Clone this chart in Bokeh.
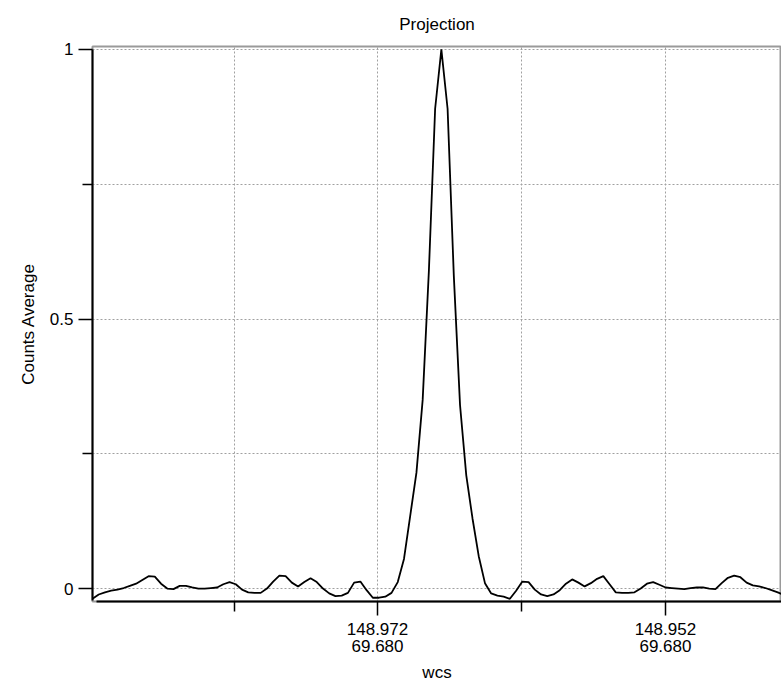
from bokeh.plotting import figure
from bokeh.models import Range1d, FixedTicker, LinearAxis, Grid
from bokeh.embed import file_html
from bokeh.resources import INLINE

# Projection profile (counts average) per sample
counts = [
    -0.019, -0.011, -0.007, -0.004, -0.002, 0.001, 0.005, 0.009, 0.016, 0.023,
    0.022, 0.009, 0.000, -0.001, 0.005, 0.005, 0.002, 0.000, 0.000, 0.001,
    0.002, 0.008, 0.012, 0.008, -0.002, -0.007, -0.008, -0.008, 0.000, 0.013,
    0.024, 0.023, 0.011, 0.004, 0.012, 0.019, 0.012, 0.000, -0.009, -0.014,
    -0.013, -0.008, 0.011, 0.013, -0.003, -0.017, -0.017, -0.015, -0.008, 0.012,
    0.055, 0.135, 0.215, 0.35, 0.59, 0.89, 1.0, 0.89, 0.58, 0.34,
    0.21, 0.13, 0.06, 0.01, -0.009, -0.013, -0.015, -0.019, -0.004, 0.013,
    0.012, -0.002, -0.011, -0.014, -0.011, -0.003, 0.009, 0.017, 0.011, 0.004,
    0.010, 0.018, 0.023, 0.008, -0.007, -0.008, -0.008, -0.007, 0.000, 0.009,
    0.012, 0.007, 0.002, 0.001, 0.000, -0.001, 0.001, 0.002, 0.002, 0.000,
    -0.001, 0.010, 0.020, 0.024, 0.021, 0.011, 0.006, 0.004, 0.001, -0.003,
    -0.007, -0.012,
]
sample = list(range(len(counts)))

# wcs axis ticks (in sample units)
x_major = [45.75, 91.97]
x_minor = [22.79, 68.86]
x_labels = ["148.972\n69.680", "148.952\n69.680"]
y_major = [0, 0.5, 1]
y_minor = [0.25, 0.75]
y_labels = ["0", "0.5", "1"]

FONT = "Liberation Sans"

p = figure(width=781, height=684, output_backend="svg", toolbar_location=None,
           x_range=Range1d(0, 110.6), y_range=Range1d(-0.024, 1.0055),
           x_axis_type=None, y_axis_type=None,
           min_border_left=92, min_border_right=0, min_border_top=44, min_border_bottom=82,
           title="Projection")
p.background_fill_color = "white"
p.border_fill_color = "white"
p.outline_line_color = "#9a9a9a"
p.outline_line_width = 2

p.title.text_font = FONT
p.title.text_font_size = "17px"
p.title.text_font_style = "normal"
p.title.align = "center"
p.title.text_color = "black"
p.title.standoff = 25

yaxis = LinearAxis(ticker=FixedTicker(ticks=y_major, minor_ticks=y_minor),
                   major_label_overrides=dict(zip(y_major, y_labels)),
                   axis_label="Counts Average", bounds=(-0.022, 1.0))
xaxis = LinearAxis(ticker=FixedTicker(ticks=x_major, minor_ticks=x_minor),
                   major_label_overrides=dict(zip(x_major, x_labels)),
                   axis_label="wcs", bounds=(0.6, 110.6))
for ax in (xaxis, yaxis):
    ax.axis_line_color = "black"
    ax.axis_line_width = 2
    ax.major_tick_line_color = "black"
    ax.major_tick_line_width = 1.5
    ax.minor_tick_line_color = "black"
    ax.minor_tick_line_width = 1.5
    ax.major_tick_in = 0
    ax.minor_tick_in = 0
    ax.major_tick_out = 14
    ax.minor_tick_out = 10
    ax.major_label_text_font = FONT
    ax.major_label_text_font_size = "17px"
    ax.major_label_text_color = "black"
    ax.axis_label_text_font = FONT
    ax.axis_label_text_font_size = "17px"
    ax.axis_label_text_font_style = "normal"
    ax.axis_label_text_color = "black"
yaxis.major_label_standoff = 5
yaxis.axis_label_standoff = 9
xaxis.major_label_standoff = 4
xaxis.major_label_text_line_height = 0.9
xaxis.axis_label_standoff = 4
p.add_layout(yaxis, "left")
p.add_layout(xaxis, "below")

for dim, ax in ((0, xaxis), (1, yaxis)):
    g = Grid(dimension=dim, ticker=ax.ticker,
             grid_line_color="#a0a0a0", grid_line_dash="2 2", grid_line_width=1,
             minor_grid_line_color="#a0a0a0", minor_grid_line_dash="2 2", minor_grid_line_width=1)
    p.add_layout(g)

p.line(sample, counts, line_color="black", line_width=1.8)

open("out.html", "w").write(file_html(p, INLINE))
